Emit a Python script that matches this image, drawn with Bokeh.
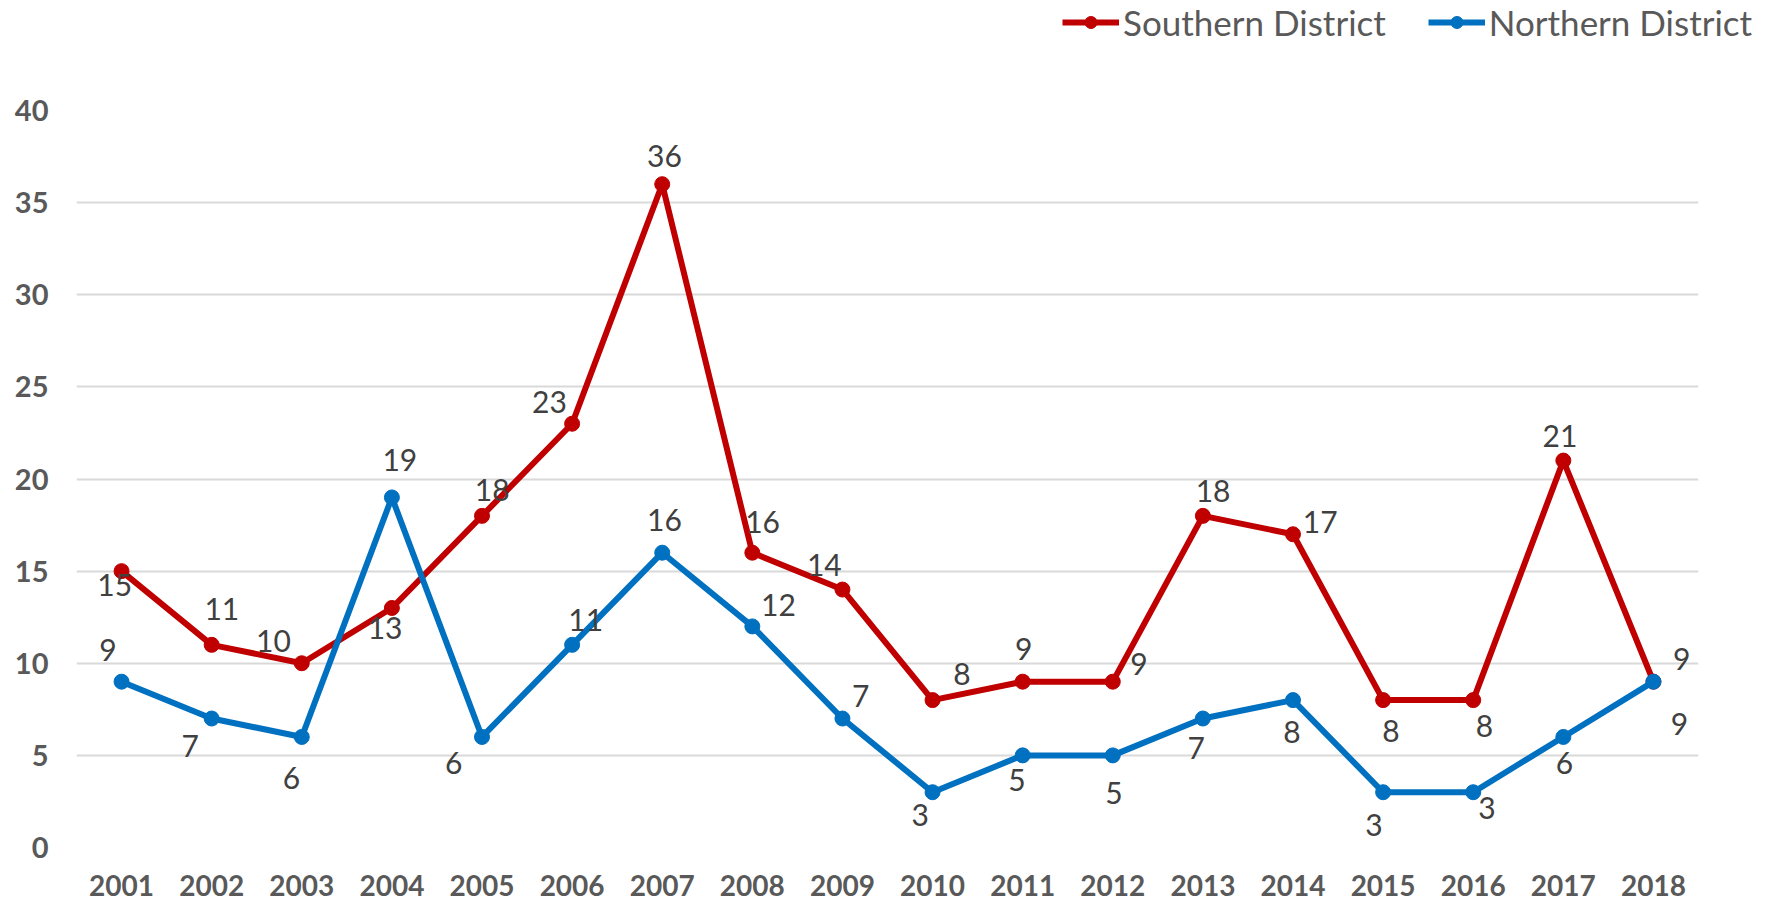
from bokeh.plotting import figure
from bokeh.layouts import column
from bokeh.models import ColumnDataSource, LabelSet, Legend, LegendItem, Range1d, FixedTicker
from bokeh.core.properties import value
from bokeh.embed import file_html
from bokeh.resources import INLINE

# ---- data ----
years = [str(y) for y in range(2001, 2019)]
southern = [15, 11, 10, 13, 18, 23, 36, 16, 14, 8, 9, 9, 18, 17, 8, 8, 21, 9]
northern = [9, 7, 6, 19, 6, 11, 16, 12, 7, 3, 5, 5, 7, 8, 3, 3, 6, 9]
y_ticks = [0, 5, 10, 15, 20, 25, 30, 35, 40]
series_names = ["Southern District", "Northern District"]

# ---- label placement (screen px, style only) ----
S = 1.134
south_dx = [-6, 9, -25, -6, 9, -20, 2, 9, -16, 26, 1, 23, 9, 24, 7, 10, -3, 25]
south_dy = [-12, 32, 20, -18, 23, 19, 25, 27, 22, 23, 29, 16, 22, 11, -27, -23, 22, 20]
north_dx = [-12, -19, -9, 7, -25, 12, 2, 23, 16, -11, -5, 1, -6, -1, -8, 12, 1, 23]
north_dy = [28, -24, -36, 33, -23, 22, 29, 19, 20, -20, -22, -33, -26, -28, -29, -14, -23, -37]

RED = "#C00000"
BLUE = "#0070C0"
GRAY = "#595959"
LABEL = "#404040"
FONT = "Lato"
W = 1769
H = 903
LEG_H = 60

# ---------------- legend strip ----------------
lg = figure(width=W, height=LEG_H, x_range=Range1d(0, 1), y_range=Range1d(0, 1),
            output_backend="svg", toolbar_location=None,
            min_border_left=0, min_border_right=0, min_border_top=0, min_border_bottom=0)
lg.frame_align = False
lg.axis.visible = False
lg.grid.visible = False
lg.outline_line_color = None
gl_s = lg.line(x=[-10, -11], y=[-10, -11], line_color=RED, line_width=6)
gm_s = lg.scatter(x=[-10], y=[-10], size=15, fill_color=RED, line_color=RED)
gl_n = lg.line(x=[-10, -11], y=[-10, -11], line_color=BLUE, line_width=6)
gm_n = lg.scatter(x=[-10], y=[-10], size=15, fill_color=BLUE, line_color=BLUE)
legend = Legend(items=[LegendItem(label=series_names[0], renderers=[gl_s, gm_s]),
                       LegendItem(label=series_names[1], renderers=[gl_n, gm_n])],
                orientation="horizontal", location=(1062, 17),
                label_text_font=FONT, label_text_font_size="35px", label_text_color=GRAY,
                glyph_width=57, glyph_height=30, label_standoff=4, spacing=42,
                padding=0, margin=0, border_line_color=None, background_fill_alpha=0)
lg.add_layout(legend)

# ---------------- main chart ----------------
p = figure(x_range=years, y_range=Range1d(0, 40), width=W, height=H - LEG_H,
           output_backend="svg", toolbar_location=None,
           min_border_left=76, min_border_right=71, min_border_top=110 - LEG_H,
           min_border_bottom=56)
p.frame_align = False
p.outline_line_color = None
p.background_fill_color = "white"
p.border_fill_color = "white"

p.xgrid.grid_line_color = None
p.ygrid.grid_line_color = "#D9D9D9"
p.ygrid.grid_line_width = 2
p.yaxis.ticker = FixedTicker(ticks=y_ticks)

for ax in (p.xaxis[0], p.yaxis[0]):
    ax.axis_line_color = None
    ax.major_tick_line_color = None
    ax.minor_tick_line_color = None
    ax.major_tick_out = 0
    ax.major_tick_in = 0
    ax.minor_tick_out = 0
    ax.minor_tick_in = 0
    ax.major_label_text_font = FONT
    ax.major_label_text_font_style = "bold"
    ax.major_label_text_font_size = "29px"
    ax.major_label_text_color = GRAY
p.xaxis.major_label_text_font_size = "28px"
p.xaxis.major_label_text_line_height = 1.0
p.yaxis.major_label_standoff = 28
p.xaxis.major_label_standoff = 27

src_s = ColumnDataSource(dict(x=years, y=southern, t=[str(v) for v in southern],
                              dx=[d * S for d in south_dx], dy=[d * S for d in south_dy]))
src_n = ColumnDataSource(dict(x=years, y=northern, t=[str(v) for v in northern],
                              dx=[d * S for d in north_dx], dy=[d * S for d in north_dy]))

p.line("x", "y", source=src_s, line_color=RED, line_width=6)
p.scatter("x", "y", source=src_s, size=15, fill_color=RED, line_color=RED)
p.line("x", "y", source=src_n, line_color=BLUE, line_width=6)
p.scatter("x", "y", source=src_n, size=15, fill_color=BLUE, line_color=BLUE)

for src in (src_s, src_n):
    lab = LabelSet(x="x", y="y", text="t", source=src, x_offset="dx", y_offset="dy",
                   text_align="center", text_baseline="middle",
                   text_font=value(FONT), text_font_size=value("30px"), text_color=LABEL)
    p.add_layout(lab)

layout = column(lg, p, spacing=0)
open("out.html", "w").write(file_html(layout, INLINE))
